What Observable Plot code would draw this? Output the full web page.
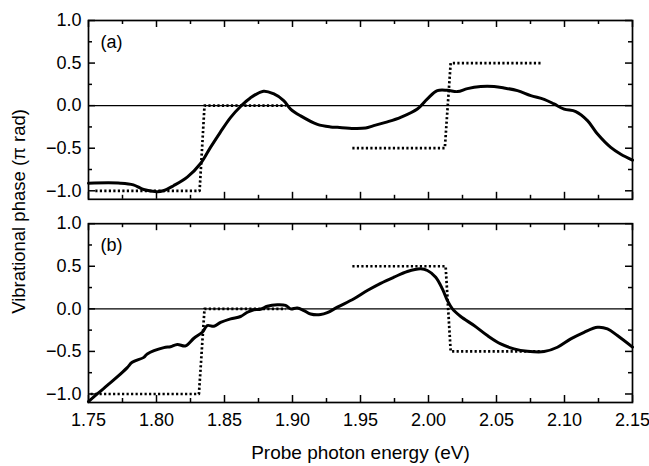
<!DOCTYPE html>
<html><head><meta charset="utf-8">
<script src="https://cdn.jsdelivr.net/npm/d3@7"></script>
<script src="https://cdn.jsdelivr.net/npm/@observablehq/plot@0.6"></script>
<style>
body{margin:0;background:#fff;}
svg{font-family:"Liberation Sans",Arial,sans-serif;}
</style>
</head><body><div id="chart"></div>
<script>
// Panels
const panels = ["a", "b"];
const panelLabels = ["(a)", "(b)"];

// Axis ticks
const xMajor = [1.75, 1.80, 1.85, 1.90, 1.95, 2.00, 2.05, 2.10, 2.15];
const xMinor = [1.775, 1.825, 1.875, 1.925, 1.975, 2.025, 2.075, 2.125];
const yMajor = [-1.0, -0.5, 0.0, 0.5, 1.0];
const yMinor = [-0.75, -0.25, 0.25, 0.75];

// Panel (a): measured phase (solid)
const aMeasX = [1.75, 1.7735, 1.783, 1.7905, 1.8005, 1.805, 1.8125, 1.8226, 1.8324, 1.8397, 1.847, 1.8544, 1.8618, 1.869, 1.8787, 1.886, 1.8935, 1.8986, 1.906, 1.9183, 1.928, 1.933, 1.9452, 1.9538, 1.9597, 1.9698, 1.9795, 1.9918, 1.9992, 2.0065, 2.0139, 2.0213, 2.0286, 2.0384, 2.0482, 2.0555, 2.0654, 2.0752, 2.085, 2.0923, 2.0997, 2.1083, 2.1169, 2.1243, 2.134, 2.1414, 2.15];
const aMeasY = [-0.91, -0.91, -0.93, -0.985, -1.01, -1.0, -0.94, -0.84, -0.68, -0.49, -0.31, -0.14, -0.01, 0.09, 0.17, 0.14, 0.06, -0.04, -0.12, -0.22, -0.25, -0.255, -0.267, -0.262, -0.235, -0.19, -0.137, -0.04, 0.08, 0.176, 0.18, 0.165, 0.2, 0.224, 0.224, 0.208, 0.176, 0.118, 0.074, 0.02, -0.04, -0.07, -0.176, -0.333, -0.49, -0.57, -0.64];
// Panel (a): model phase (dotted), two segments
const aModelSeg = [1, 1, 1, 1, 2, 2, 2, 2];
const aModelX = [1.755, 1.8317, 1.8353, 1.895, 1.944, 2.012, 2.0163, 2.0825];
const aModelY = [-1.0, -1.0, 0.0, 0.0, -0.5, -0.5, 0.5, 0.5];

// Panel (b): measured phase (solid)
const bMeasX = [1.75, 1.7564, 1.7638, 1.7711, 1.7785, 1.7821, 1.7907, 1.7932, 1.8054, 1.8103, 1.8153, 1.8214, 1.8275, 1.8337, 1.8373, 1.8422, 1.8471, 1.8545, 1.8618, 1.8668, 1.8716, 1.8765, 1.8815, 1.8888, 1.8949, 1.8986, 1.9035, 1.9084, 1.9133, 1.9207, 1.9256, 1.933, 1.9452, 1.955, 1.9648, 1.9746, 1.9845, 1.9943, 1.9992, 2.0053, 2.0102, 2.0139, 2.0176, 2.0237, 2.0335, 2.0433, 2.0531, 2.0629, 2.0727, 2.085, 2.0948, 2.1046, 2.1144, 2.1243, 2.1316, 2.1389, 2.15];
const bMeasY = [-1.09, -1.0, -0.9, -0.8, -0.69, -0.628, -0.57, -0.529, -0.455, -0.445, -0.418, -0.435, -0.345, -0.275, -0.196, -0.205, -0.16, -0.118, -0.09, -0.04, -0.01, -0.005, 0.03, 0.047, 0.04, 0.0, 0.01, -0.02, -0.06, -0.067, -0.045, 0.02, 0.118, 0.215, 0.3, 0.372, 0.439, 0.47, 0.45, 0.372, 0.235, 0.098, 0.0, -0.09, -0.196, -0.314, -0.412, -0.47, -0.498, -0.502, -0.451, -0.353, -0.275, -0.216, -0.235, -0.314, -0.45];
// Panel (b): model phase (dotted), two segments
const bModelSeg = [1, 1, 1, 1, 2, 2, 2, 2];
const bModelX = [1.7515, 1.8312, 1.8353, 1.895, 1.944, 2.0126, 2.0163, 2.0838];
const bModelY = [-1.0, -1.0, 0.0, 0.0, 0.5, 0.5, -0.5, -0.5];

// Build tables
const meas = [
  ...aMeasX.map((x, i) => ({panel: "a", x, y: aMeasY[i]})),
  ...bMeasX.map((x, i) => ({panel: "b", x, y: bMeasY[i]}))
];
const model = [
  ...aModelX.map((x, i) => ({panel: "a", seg: "a" + aModelSeg[i], x, y: aModelY[i]})),
  ...bModelX.map((x, i) => ({panel: "b", seg: "b" + bModelSeg[i], x, y: bModelY[i]}))
];
const labels = panels.map((p, i) => ({panel: p, text: panelLabels[i]}));

const W = 649, H = 466;
const mL = 88, mR = 17, mT = 20, mB = 64;
const padInner = 0.12;
const innerW = W - mL - mR;
const bandH = ((H - mT - mB) / (2 - padInner)) * (1 - padInner);
const major = 7, minor = 4;
const fs = 18;

const chart = Plot.plot({
  width: W, height: H,
  marginLeft: mL, marginRight: mR, marginTop: mT, marginBottom: mB,
  style: {fontFamily: "'Liberation Sans', Arial, sans-serif", background: "#fff", color: "#000"},
  x: {domain: [1.75, 2.15]},
  y: {domain: [-1.1, 1.0]},
  fy: {domain: panels, paddingInner: padInner, paddingOuter: 0, round: false},
  marks: [
    Plot.ruleY([0], {stroke: "#000", strokeWidth: 1.1}),
    Plot.line(model, {x: "x", y: "y", z: "seg", fy: "panel", stroke: "#000", strokeWidth: 2.7, strokeDasharray: "2.2,2.3", strokeLinecap: "butt"}),
    Plot.line(meas, {x: "x", y: "y", fy: "panel", stroke: "#000", strokeWidth: 3, curve: "catmull-rom"}),
    Plot.text(labels, {text: "text", fy: "panel", frameAnchor: "top-left", dx: 12, dy: 22, fontSize: fs, textAnchor: "start", lineAnchor: "middle"}),
    // inward tick marks on all four sides
    Plot.tickX(xMajor, {x: d => d, insetTop: bandH - major, strokeWidth: 1.5}),
    Plot.tickX(xMinor, {x: d => d, insetTop: bandH - minor, strokeWidth: 1.5}),
    Plot.tickX(xMajor, {x: d => d, insetBottom: bandH - major, strokeWidth: 1.5}),
    Plot.tickX(xMinor, {x: d => d, insetBottom: bandH - minor, strokeWidth: 1.5}),
    Plot.tickY(yMajor, {y: d => d, insetRight: innerW - major, strokeWidth: 1.5}),
    Plot.tickY(yMinor, {y: d => d, insetRight: innerW - minor, strokeWidth: 1.5}),
    Plot.tickY(yMajor, {y: d => d, insetLeft: innerW - major, strokeWidth: 1.5}),
    Plot.tickY(yMinor, {y: d => d, insetLeft: innerW - minor, strokeWidth: 1.5}),
    Plot.frame({stroke: "#000", strokeWidth: 1.7}),
    Plot.axisX(xMajor, {anchor: "bottom", tickSize: 0, tickPadding: 11, fontSize: fs, tickFormat: d3.format(".2f"), label: null}),
    Plot.axisX({anchor: "bottom", ticks: [], tickSize: 0, fontSize: 19,
      label: "Probe photon energy (eV)", labelAnchor: "center", labelArrow: "none", labelOffset: 56}),
    Plot.axisY(yMajor, {anchor: "left", tickSize: 0, tickPadding: 7, fontSize: fs, tickFormat: d3.format(".1f"), label: null}),
    Plot.axisFy({anchor: "left", tickSize: 0, tickFormat: () => "", fontSize: 18.5,
      label: "Vibrational phase (\u03c0 rad)", labelAnchor: "center", labelArrow: "none", labelOffset: 77})
  ]
});
document.getElementById("chart").appendChild(chart);
</script>
</body></html>
